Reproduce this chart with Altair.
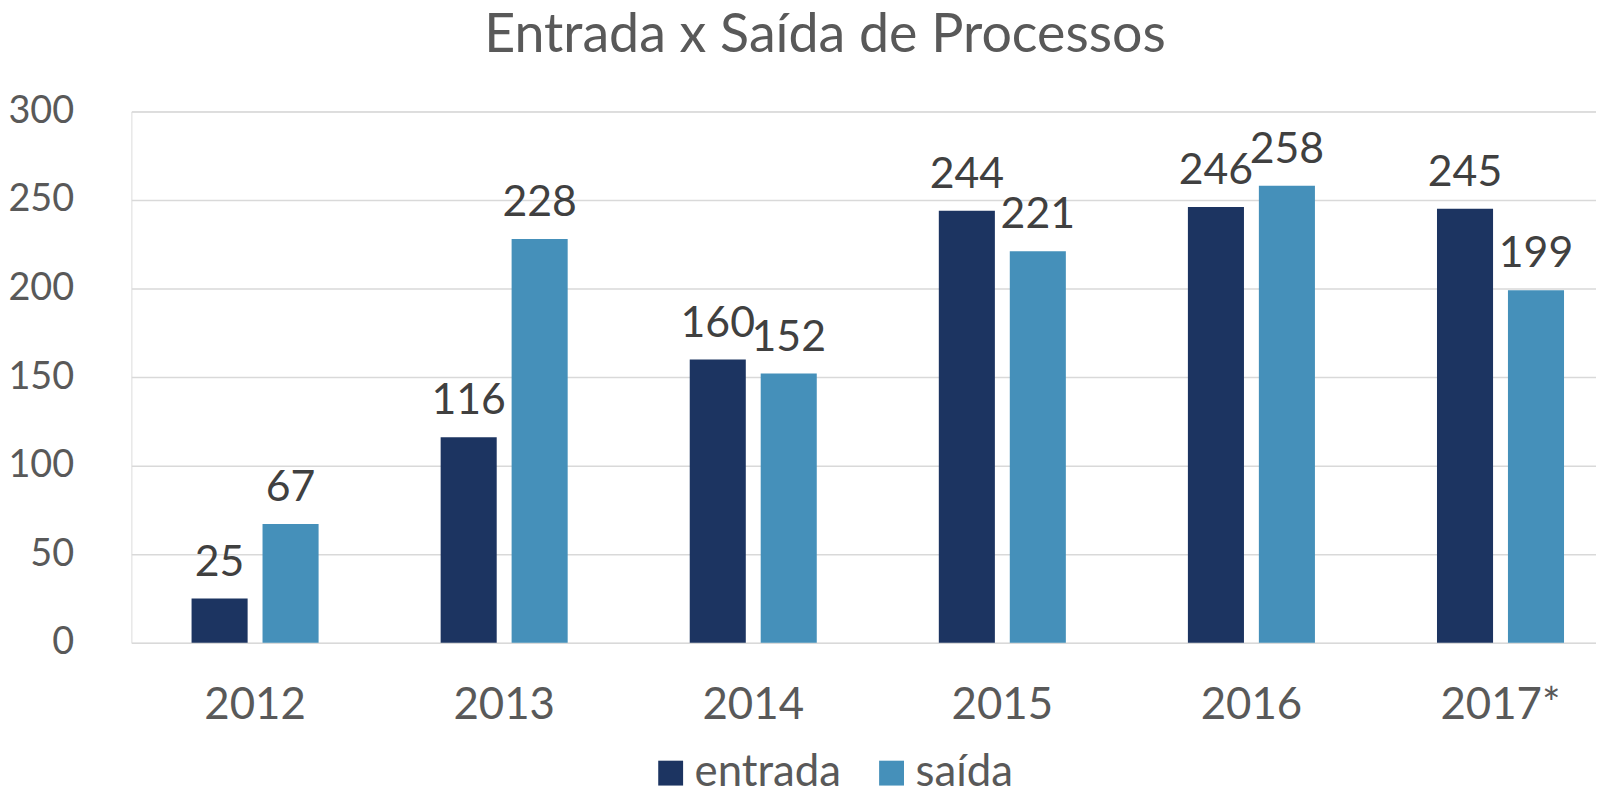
import altair as alt
import pandas as pd

years = ["2012", "2013", "2014", "2015", "2016", "2017*"]
entrada = [25, 116, 160, 244, 246, 245]
saida = [67, 228, 152, 221, 258, 199]
series = ["entrada", "saída"]
colors = ["#1C3461", "#4590BA"]

rows = []
for y, e, s in zip(years, entrada, saida):
    rows.append({"ano": y, "serie": "entrada", "valor": e})
    rows.append({"ano": y, "serie": "saída", "valor": s})
df = pd.DataFrame(rows)

FONT = "Lato"
GRAY = "#595959"

x = alt.X("ano:N", sort=years, title=None,
          scale=alt.Scale(paddingInner=0.49, paddingOuter=0.185, align=0.653),
          axis=alt.Axis(labelAngle=0, labelFontSize=44, labelColor=GRAY, labelFont=FONT,
                        ticks=False, domain=False, labelPadding=41))
xo = alt.XOffset("serie:N", sort=series, scale=alt.Scale(paddingInner=0.21, paddingOuter=0))
y = alt.Y("valor:Q", title=None,
          scale=alt.Scale(domain=[0, 300], nice=False),
          axis=alt.Axis(values=[0, 50, 100, 150, 200, 250, 300], labelFontSize=38,
                        labelColor=GRAY, labelFont=FONT, ticks=False, domain=False,
                        labelPadding=58, gridColor="#D9D9D9", gridWidth=1.5))

base = alt.Chart(df)

bars = base.mark_bar().encode(
    x=x, xOffset=xo, y=y,
    color=alt.Color("serie:N", sort=series, title=None,
                    scale=alt.Scale(domain=series, range=colors),
                    legend=alt.Legend(orient="none", direction="horizontal", legendX=520,
                                      legendY=643, symbolType="square", symbolSize=625,
                                      symbolStrokeWidth=0, labelFontSize=44, labelColor=GRAY,
                                      labelFont=FONT, labelOffset=2, columnPadding=28,
                                      padding=0)),
)

labels = base.mark_text(fontSize=43, font=FONT, color="#404040", dy=-23,
                        baseline="alphabetic").encode(
    x=x, xOffset=xo, y=alt.Y("valor:Q"), text=alt.Text("valor:Q"),
)

chart = alt.layer(bars, labels).properties(
    width=1472, height=534,
    title=alt.Title("Entrada x Saída de Processos", fontSize=54, font=FONT, color=GRAY,
                    fontWeight="normal", anchor="middle", frame="group", dx=-39,
                    offset=30),
    autosize=alt.AutoSizeParams(type="none"),
    padding={"left": 124, "top": 102, "right": 0, "bottom": 150},
).configure_view(stroke=None).configure(background="white")

chart.save("out.html", embed_options={"renderer": "svg", "actions": False})
